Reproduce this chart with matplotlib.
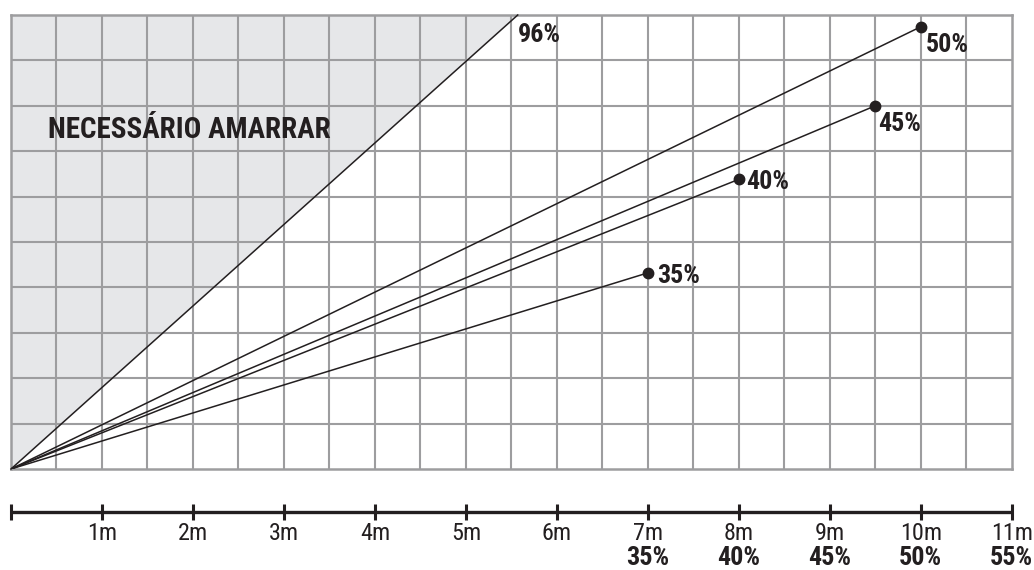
import matplotlib
matplotlib.use("Agg")
import matplotlib.pyplot as plt
import matplotlib.transforms as mtransforms
from matplotlib import font_manager as fm
import numpy as np

# pick a condensed family if one is installed
cond_family, cond_stretch = None, 'normal'
pref = ['Liberation Sans Narrow', 'Roboto Condensed', 'Open Sans Condensed', 'Noto Sans Condensed']
names = {f.name for f in fm.fontManager.ttflist}
for p in pref:
    if p in names:
        cond_family = p
        break
if cond_family is None:
    for f in fm.fontManager.ttflist:
        if str(f.stretch) in ('condensed', 'semi-condensed', 'extra-condensed') and f.name in (
                'DejaVu Sans', 'Noto Sans', 'Open Sans', 'Roboto', 'Liberation Sans'):
            cond_family, cond_stretch = f.name, str(f.stretch)
            break
if cond_family is None:
    cond_family = 'DejaVu Sans'
plt.rcParams['font.family'] = [cond_family, 'DejaVu Sans']
plt.rcParams['font.stretch'] = cond_stretch

# Data (meters)
line_x = [7, 8, 9.5, 10]
line_y = [2.16, 3.19, 4.0, 4.87]
line_labels = ['35%', '40%', '45%', '50%']
label_offsets = [(7, -2), (5, -2), (2, -13), (4, -13)]  # points

limit_x = 5.57   # 96% line reaches top of grid
limit_y = 5.0
limit_label = '96%'

scale_ticks = [0, 1, 2, 3, 4, 5, 6, 7, 8, 9, 10, 11]
scale_labels = ['', '1m', '2m', '3m', '4m', '5m', '6m', '7m', '8m', '9m', '10m', '11m']
pct_ticks = [7, 8, 9, 10, 11]
pct_labels = ['35%', '40%', '45%', '50%', '55%']

W, H = 1034, 570
fig = plt.figure(figsize=(W / 100, H / 100), dpi=100)

x0, x1 = 11, 1011.7
ytop, ybot = 15, 469
ax = fig.add_axes([x0 / W, (H - ybot) / H, (x1 - x0) / W, (ybot - ytop) / H])
ax.set_xlim(0, 11)
ax.set_ylim(0, 5)

grid_c = '#9d9d9f'
dark = '#231f20'

ax.fill([0, limit_x, 0], [0, limit_y, limit_y], color='#e6e7e9', zorder=0, lw=0)

for gx in np.arange(0.5, 11, 0.5):
    ax.axvline(gx, color=grid_c, lw=1.5, zorder=1)
for gy in np.arange(0.5, 5, 0.5):
    ax.axhline(gy, color=grid_c, lw=1.5, zorder=1)
for s in ax.spines.values():
    s.set_color(grid_c)
    s.set_linewidth(1.8)
ax.set_xticks([])
ax.set_yticks([])

ax.plot([0, limit_x], [0, limit_y], color=dark, lw=1.1, zorder=3, clip_on=False)
t96 = ax.text(limit_x + 0.003, limit_y - 0.09, limit_label, fontsize=18, fontweight='bold',
              color=dark, ha='left', va='top', zorder=4)

pt_texts = []
for xe, ye, lab, off in zip(line_x, line_y, line_labels, label_offsets):
    ax.plot([0, xe], [0, ye], color=dark, lw=1.1, zorder=3)
    ax.plot([xe], [ye], 'o', color=dark, ms=7.5, zorder=4)
    pt_texts.append(ax.annotate(lab, (xe, ye), xytext=off, textcoords='offset points',
                                fontsize=18, fontweight='bold', color=dark, ha='left',
                                va='center', zorder=5))

title = ax.text((48 - x0) / (x1 - x0), (ybot - 130) / (ybot - ytop), 'NECESSÁRIO AMARRAR',
                transform=ax.transAxes, fontsize=23, fontweight='bold', color=dark,
                ha='left', va='center', zorder=5)

# scale bar
ybar = 512
ax2 = fig.add_axes([x0 / W, (H - ybar) / H, (x1 - x0) / W, 0.0001])
ax2.set_xlim(0, 11)
ax2.set_ylim(0, 1)
ax2.patch.set_visible(False)
for k in ['top', 'left', 'right']:
    ax2.spines[k].set_visible(False)
ax2.spines['bottom'].set_color(dark)
ax2.spines['bottom'].set_linewidth(2.4)
ax2.spines['bottom'].set_capstyle('butt')
ax2.set_yticks([])
ax2.set_xticks(scale_ticks)
ax2.set_xticklabels(scale_labels)
ax2.tick_params(axis='x', direction='inout', length=11.5, width=2.2, color=dark,
                labelsize=17.5, labelcolor=dark, pad=1.5)

trans = mtransforms.blended_transform_factory(ax2.transData, fig.transFigure)
pct_texts = []
for xt, lab in zip(pct_ticks, pct_labels):
    pct_texts.append(ax2.text(xt, (H - 558) / H, lab, transform=trans, fontsize=19,
                              fontweight='bold', color=dark, ha='center', va='center'))

# fit text sizes to the widths seen in the reference
renderer = fig.canvas.get_renderer()


def fit(texts, ref, target_w, max_size, grow=1.0):
    w = ref.get_window_extent(renderer).width
    s = min(ref.get_fontsize() * target_w / w * grow, max_size)
    for t in texts:
        t.set_fontsize(s)
    return s


fit(pt_texts + [t96], pt_texts[3], 43, 22)
fit([title], title, 270, 25, grow=1.05)
fit(pct_texts, pct_texts[0], 43, 22)
probe = ax2.text(0, 0, '10m', fontsize=17.5, transform=trans)
sz = fit([probe], probe, 42, 21)
probe.remove()
ax2.tick_params(axis='x', labelsize=sz)

fig.savefig('out.png', dpi=100)
